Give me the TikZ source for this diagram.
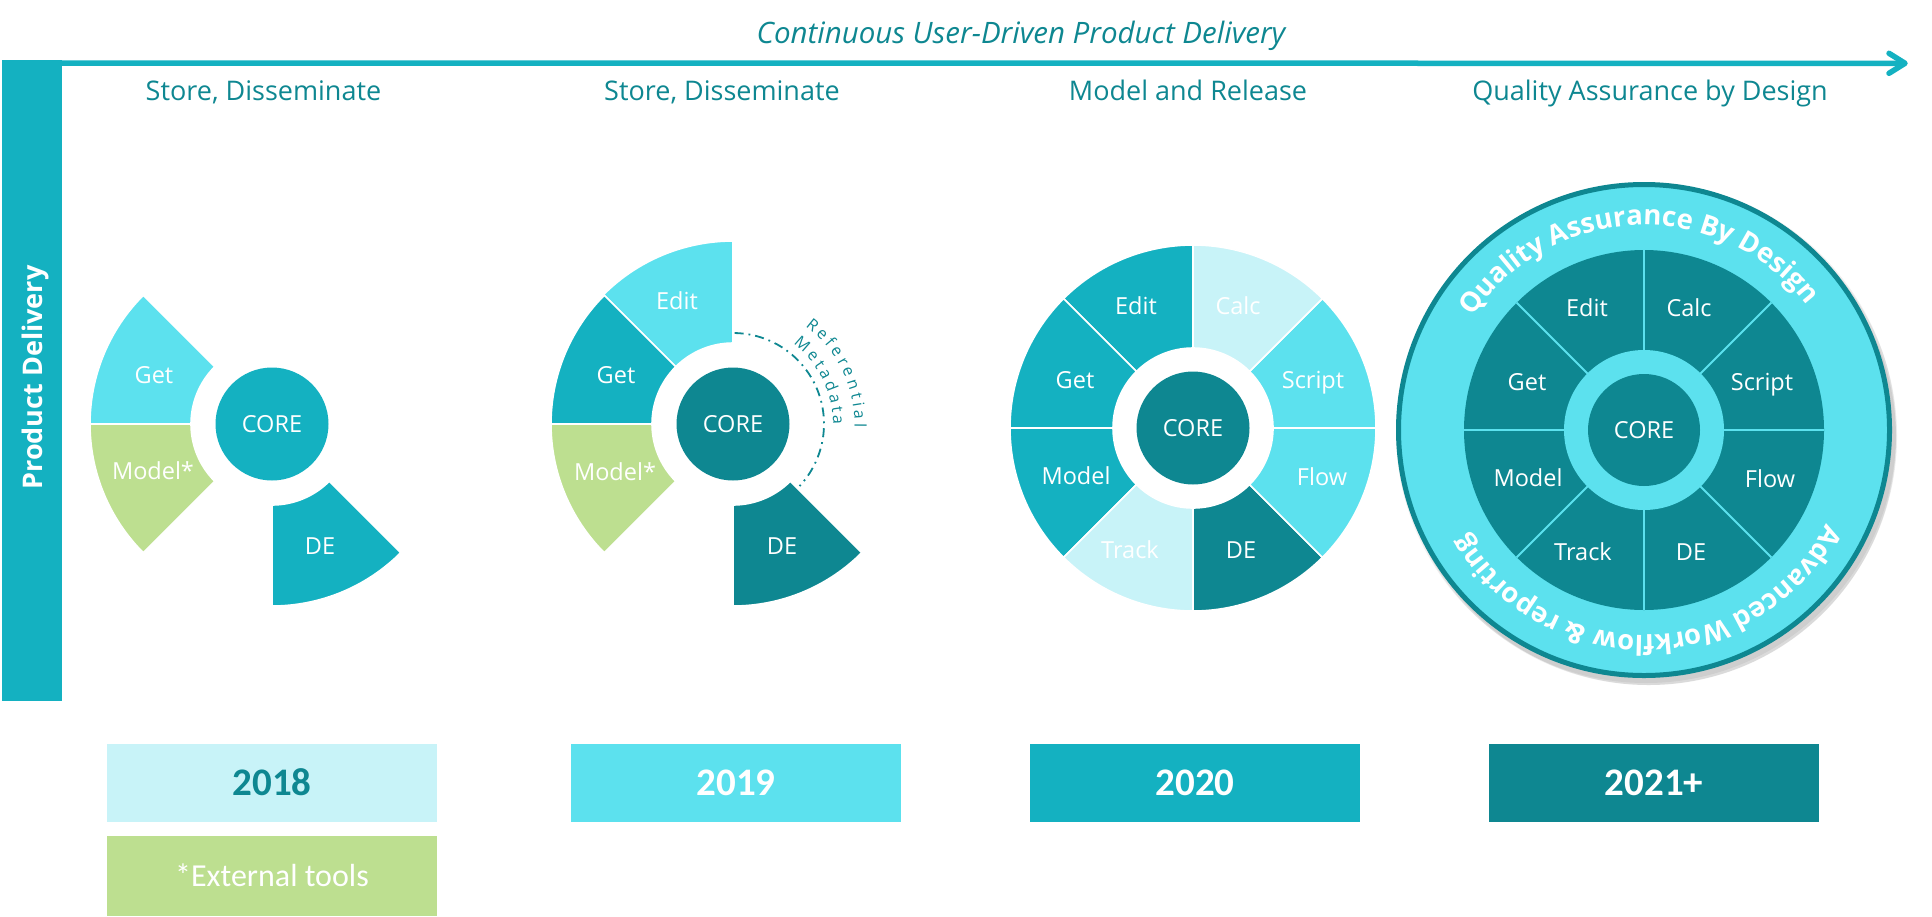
\documentclass[tikz,border=0pt]{standalone}
\usepackage{fontspec}
\setmainfont{Open Sans}
\newfontfamily\carl{Carlito}
\usetikzlibrary{decorations.text}
\definecolor{tdark}{HTML}{0E8791}
\definecolor{tmid}{HTML}{14B1C1}
\definecolor{clight}{HTML}{5CE1EE}
\definecolor{cpale}{HTML}{C8F3F8}
\definecolor{glight}{HTML}{BDDF90}
\newcommand\annsec[5]{\fill[#1, draw=white, line width=1.6] (#2:#5) arc[start angle=#2, end angle=#3, radius=#5] -- (#3:#4) arc[start angle=#3, end angle=#2, radius=#4] -- cycle;}
\newcommand\ringfont{\bfseries\fontsize{27.5}{32}\selectfont}
\newcommand\metafont{\fontsize{16}{19}\selectfont}
\tikzset{
  lbl/.style={font=\fontsize{23.5}{28}\selectfont, text=white, inner sep=0pt, text height=16.8pt, text depth=0pt},
  corenode/.style={lbl, circle, minimum size=113, fill=tdark},
  head/.style={font=\fontsize{27}{31}\selectfont, text=tdark, inner sep=0pt, text height=19.2pt, text depth=0pt},
  yearbox/.style={minimum width=330, minimum height=78, inner sep=0pt, font=\carl\bfseries\fontsize{39}{44}\selectfont, text=white, text height=24.5pt, text depth=0pt},
  ringtext/.style={decorate, decoration={text along path, text align=center, text color=white}},
}
\begin{document}
\begin{tikzpicture}[x=1pt, y=1pt]
\useasboundingbox (0,0) rectangle (1932,-916);

% title and timeline arrow
\node[font=\itshape\fontsize{29.5}{35}\selectfont, text=tdark, inner sep=0pt, text height=21pt, text depth=0pt] (title) at (1021,-32.5) {Continuous User-Driven Product Delivery};
\node[fill=tmid, minimum width=60, minimum height=641, inner sep=0pt] (bar) at (32,-380.5) {};
\node[rotate=90, font=\bfseries\fontsize{27}{31}\selectfont, text=white, inner sep=0pt, text height=19.3pt, text depth=0pt] (bartext) at (33,-377.5) {Product Delivery};
\coordinate (arrowend) at (1905,-63.3);
\coordinate (barbtop) at (1889,-53.3);
\coordinate (barbbot) at (1889,-73.3);
\draw[tmid, line width=5.5] ([yshift=-3.3]bar.north east) -- (arrowend);
\draw[tmid, line width=5.5, line cap=round, line join=round] (barbtop) -- (arrowend) -- (barbbot);

% headings
\node[head] (h18) at (263.5,-91) {Store, Disseminate};
\node[head] (h19) at (722,-91) {Store, Disseminate};
\node[head] (h20) at (1188,-91) {Model and Release};
\node[head] (h21) at (1650,-91) {Quality Assurance by Design};

% 2018
\begin{scope}[shift={(272,-424)}]
\annsec{clight}{135}{180}{81}{182}
\annsec{glight}{180}{225}{81}{182}
\annsec{tmid}{270}{315}{81}{182}
\node[corenode, fill=tmid] (core18) at (0,0) {CORE};
\node[lbl] (get18) at (-118,49) {Get};
\node[lbl] (mod18) at (-119,-47) {Model*};
\node[lbl] (de18) at (48,-122) {DE};
\end{scope}

% 2019
\begin{scope}[shift={(733,-424)}]
\annsec{clight}{90}{135}{81}{183}
\annsec{tmid}{135}{180}{81}{182}
\annsec{glight}{180}{225}{81}{182}
\annsec{tdark}{270}{315}{81}{182}
\node[corenode] (core19) at (0,0) {CORE};
\node[lbl] (edit19) at (-56,123) {Edit};
\node[lbl] (get19) at (-117,49) {Get};
\node[lbl] (mod19) at (-118,-48) {Model*};
\node[lbl] (de19) at (49,-122) {DE};
\draw[tdark, line width=1.8, dash pattern=on 9pt off 5pt on 1.8pt off 5pt] (89:91) arc[start angle=89, end angle=-43, radius=91];
\path[decorate, decoration={text along path, text={|\metafont|Referential}, text align=fit to path, text color=tdark}] (53.5:121.5) arc[start angle=53.5, end angle=-1.5, radius=121.5];
\path[decorate, decoration={text along path, text={|\metafont|Metadata}, text align=fit to path, text color=tdark}] (53:100) arc[start angle=53, end angle=-0.5, radius=100];
\end{scope}

% 2020
\begin{scope}[shift={(1193,-428)}]
\annsec{tmid}{90}{135}{80}{183}
\annsec{tmid}{135}{180}{80}{183}
\annsec{tmid}{180}{225}{80}{183}
\annsec{cpale}{225}{270}{80}{183}
\annsec{tdark}{270}{315}{80}{183}
\annsec{clight}{315}{360}{80}{183}
\annsec{clight}{0}{45}{80}{183}
\annsec{cpale}{45}{90}{80}{183}
\node[corenode] (core20) at (0,0) {CORE};
\node[lbl] (edit20) at (-57,122) {Edit};
\node[lbl] (calc20) at (45,122) {Calc};
\node[lbl] (get20) at (-118,48) {Get};
\node[lbl] (script20) at (120,48) {Script};
\node[lbl] (model20) at (-117,-48) {Model};
\node[lbl] (flow20) at (129,-49) {Flow};
\node[lbl] (track20) at (-63,-122) {Track};
\node[lbl] (de20) at (48,-122) {DE};
\end{scope}

% 2021+
\begin{scope}[shift={(1644,-430)}]
\fill[black, opacity=0.06] (2,-3) circle (250);
\fill[black, opacity=0.07] (4,-6) circle (249);
\fill[black, opacity=0.08] (5,-8) circle (247);
\draw[fill=clight, draw=tdark, line width=5] (0,0) circle (245.5);
\path[ringtext, decoration={text={|\ringfont|Quality Assurance By Design}}] (162:205) arc[start angle=162, end angle=22, radius=205];
\path[ringtext, decoration={text={|\ringfont|Advanced Workflow {\&} reporting}}] (-13:205) arc[start angle=-13, end angle=-164, radius=205];
\fill[tdark] (0,0) circle (180);
\fill[clight] (0,0) circle (80);
\foreach \a in {0,45,...,315} \draw[clight, line width=2] (\a:79) -- (\a:180);
\node[corenode, minimum size=112] (core21) at (0,0) {CORE};
\node[lbl] (edit21) at (-57,122) {Edit};
\node[lbl] (calc21) at (45,122) {Calc};
\node[lbl] (get21) at (-117,48) {Get};
\node[lbl] (script21) at (118,48) {Script};
\node[lbl] (model21) at (-116,-48) {Model};
\node[lbl] (flow21) at (126,-49) {Flow};
\node[lbl] (track21) at (-61,-122) {Track};
\node[lbl] (de21) at (47,-122) {DE};
\end{scope}

% year boxes
\node[yearbox, fill=cpale, text=tdark] (y18) at (272,-783) {2018};
\node[yearbox, fill=clight] (y19) at (736,-783) {2019};
\node[yearbox, fill=tmid] (y20) at (1195,-783) {2020};
\node[yearbox, fill=tdark] (y21) at (1654,-783) {2021+};
\node[fill=glight, minimum width=330, minimum height=80, inner sep=0pt, font=\carl\fontsize{32}{38}\selectfont, text=white, text height=20.6pt, text depth=0pt] (ext) at (272,-876) {*External tools};
\end{tikzpicture}
\end{document}
